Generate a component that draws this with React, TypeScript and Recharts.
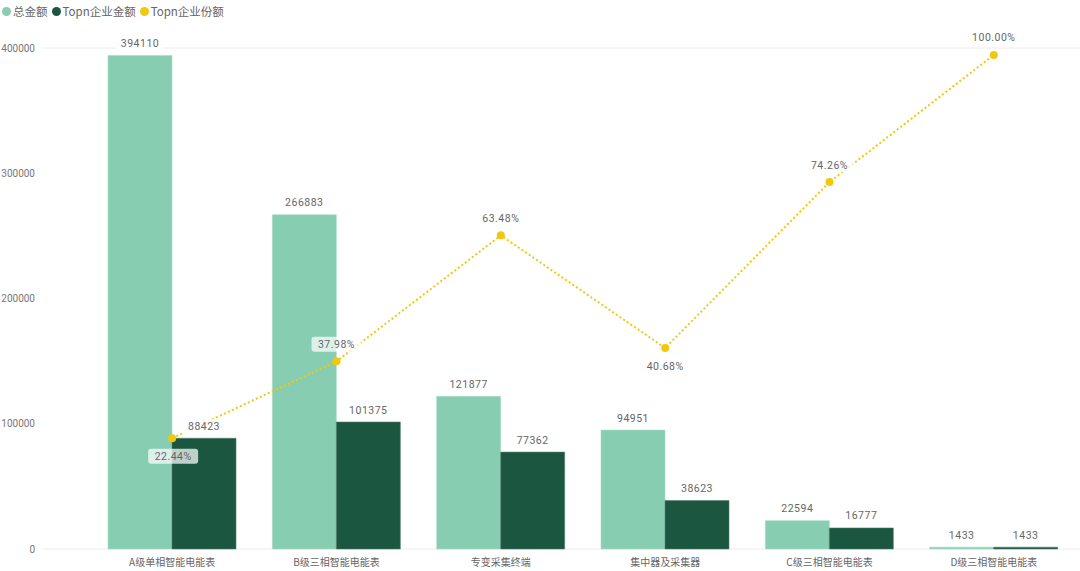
import React from 'react';
import {
  ComposedChart, Bar, Line, CartesianGrid, XAxis, YAxis, LabelList
} from 'recharts';

// categories and series
const categories = ['A级单相智能电能表', 'B级三相智能电能表', '专变采集终端', '集中器及采集器', 'C级三相智能电能表', 'D级三相智能电能表'];
const totalAmount = [394110, 266883, 121877, 94951, 22594, 1433];
const topnAmount = [88423, 101375, 77362, 38623, 16777, 1433];
const topnShare = [22.44, 37.98, 63.48, 40.68, 74.26, 100.0];
const leftTicks = [0, 100000, 200000, 300000, 400000];

const LIGHT = '#86cdb2';
const DARK = '#1b5640';
const YELLOW = '#f2c80f';
const NUM_FONT = 'Roboto, "DejaVu Sans", sans-serif';
const CJK_FONT = '"Noto Sans CJK SC", "Noto Sans", sans-serif';

const data = categories.map((name, i) => ({
  name,
  total: totalAmount[i],
  topn: topnAmount[i],
  share: topnShare[i],
}));

// share labels drawn under the point instead of above
const shareBelow = new Set([0, 3]);

const BarValueLabel = (props: any) => {
  const { x, y, width, value } = props;
  const cx = x + width / 2;
  const txt = String(value);
  const w = txt.length * 6.4 + 8;
  return (
    <g>
      <rect x={cx - w / 2} y={y - 19} width={w} height={14} fill="#fff" />
      <text x={cx} y={y - 12} textAnchor="middle" dominantBaseline="central"
        fontFamily={NUM_FONT} fontSize={10.5} fill="#666" letterSpacing={0.5}>
        {txt}
      </text>
    </g>
  );
};

const ShareLabel = (props: any) => {
  const { x, y, value, index } = props;
  const txt = `${Number(value).toFixed(2)}%`;
  const cy = shareBelow.has(index) ? y + 18 : y - 17;
  const cx = index === 0 ? x + 1 : x;
  const w = 50;
  return (
    <g>
      <rect x={cx - w / 2} y={cy - 7.5} width={w} height={15} rx={3} fill="#fff" fillOpacity={0.72} />
      <text x={cx} y={cy} textAnchor="middle" dominantBaseline="central"
        fontFamily={NUM_FONT} fontSize={10.5} fill="#666" letterSpacing={0.5}>
        {txt}
      </text>
    </g>
  );
};

const legendItems = [
  { label: '总金额', color: LIGHT },
  { label: 'Topn企业金额', color: DARK },
  { label: 'Topn企业份额', color: YELLOW },
];

const TopLegend = () => (
  <div style={{
    position: 'absolute', left: 2, top: 3, display: 'flex', alignItems: 'center',
    fontFamily: CJK_FONT, fontSize: 11.5, color: '#666', lineHeight: '16px',
  }}>
    {legendItems.map((it) => (
      <span key={it.label} style={{ display: 'flex', alignItems: 'center', marginRight: 4 }}>
        <span style={{ width: 9, height: 9, borderRadius: '50%', background: it.color, marginRight: 2, display: 'inline-block' }} />
        {it.label}
      </span>
    ))}
  </div>
);

const CategoryTick = (props: any) => {
  const { x, y, payload } = props;
  return (
    <text x={x} y={y + 10} textAnchor="middle" dominantBaseline="central"
      fontFamily={CJK_FONT} fontSize={10} fill="#666">
      {payload.value}
    </text>
  );
};

export default function App() {
  return (
    <div style={{ position: 'fixed', left: 0, top: 0, width: 1080, height: 571, background: '#fff' }}>
      <ComposedChart
        width={1080}
        height={571}
        data={data}
        margin={{ top: 48, right: 0, bottom: 0, left: 0 }}
        barCategoryGap={18}
        barGap={0}
      >
        <CartesianGrid vertical={false} stroke="#ececec" />
        <XAxis
          dataKey="name"
          height={22}
          padding={{ left: 47, right: 4 }}
          axisLine={false}
          tickLine={false}
          tickSize={0}
          interval={0}
          tick={<CategoryTick />}
        />
        <YAxis
          yAxisId="amount"
          width={43}
          domain={[0, 400000]}
          ticks={leftTicks}
          axisLine={false}
          tickLine={false}
          tickSize={0}
          tickMargin={8}
          tick={{ fontFamily: NUM_FONT, fontSize: 10, fill: '#777' }}
        />
        <YAxis yAxisId="share" orientation="right" hide domain={[0, 101.4]} />
        <Bar yAxisId="amount" dataKey="total" name="总金额" fill={LIGHT}
          stroke="#a9dcc8" strokeWidth={0.6} isAnimationActive={false}>
          <LabelList dataKey="total" content={<BarValueLabel />} />
        </Bar>
        <Bar yAxisId="amount" dataKey="topn" name="Topn企业金额" fill={DARK}
          stroke="#4f7d6b" strokeWidth={0.6} isAnimationActive={false}>
          <LabelList dataKey="topn" content={<BarValueLabel />} />
        </Bar>
        <Line
          yAxisId="share"
          dataKey="share"
          name="Topn企业份额"
          stroke={YELLOW}
          strokeWidth={2}
          strokeDasharray="2 2.4"
          dot={{ r: 4, fill: YELLOW, stroke: 'none' }}
          activeDot={false}
          isAnimationActive={false}
        >
          <LabelList dataKey="share" content={<ShareLabel />} />
        </Line>
      </ComposedChart>
      <TopLegend />
    </div>
  );
}
